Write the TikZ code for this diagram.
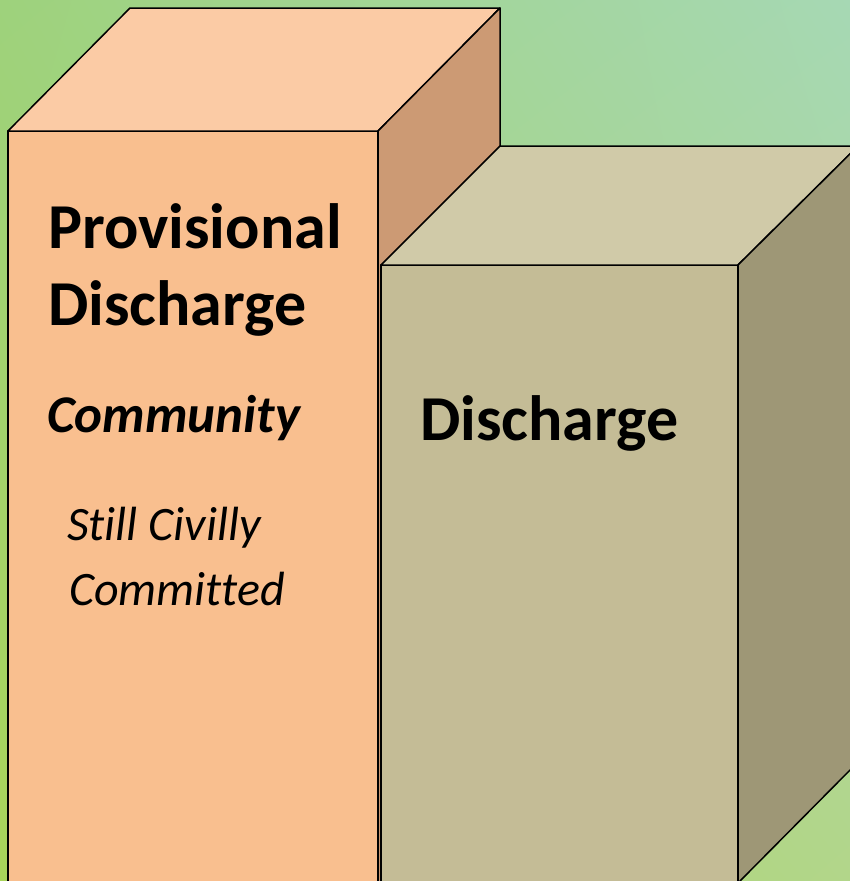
\documentclass[tikz,border=0pt]{standalone}
\usepackage{fontspec}
\setmainfont[Ligatures={NoCommon}]{Carlito}
\usepackage{xcolor}
\usetikzlibrary{shadings}

\definecolor{bgul}{HTML}{9ED27C}
\definecolor{bgur}{HTML}{A6D8B4}
\definecolor{bgll}{HTML}{A8D45A}
\definecolor{bglr}{HTML}{B2D68A}
\definecolor{orfront}{HTML}{F9BF8F}
\definecolor{ortop}{HTML}{FBCBA5}
\definecolor{orside}{HTML}{CC9A74}
\definecolor{tnfront}{HTML}{C4BC96}
\definecolor{tntop}{HTML}{D0CAA8}
\definecolor{tnside}{HTML}{9E9776}

\tikzset{
  face/.style={draw=black, line width=1.5pt, line join=round},
  bigtext/.style={anchor=base west, inner sep=0pt, font=\fontsize{64}{77}\selectfont\bfseries},
  subtext/.style={anchor=base west, inner sep=0pt, font=\fontsize{53}{60}\selectfont\bfseries\itshape},
  smalltext/.style={anchor=base west, inner sep=0pt, font=\fontsize{48}{60}\selectfont\itshape}
}

\begin{document}
\begin{tikzpicture}[x=1pt,y=-1pt]
      \useasboundingbox (0,0) rectangle (850,881);
      \clip (0,0) rectangle (850,881);

      % 背景
      \shade[upper left=bgul, upper right=bgur, lower left=bgll, lower right=bglr] (0,0) rectangle (850,881);

      % 左の箱の頂点
      \coordinate (A) at (8,131);
      \coordinate (B) at (378,131);
      \coordinate (C) at (378,895);
      \coordinate (D) at (8,895);
      \coordinate (E) at (130,8);
      \coordinate (F) at (500,8);
      \coordinate (G) at (500,770);

      % 右の箱の頂点
      \coordinate (P) at (381,265);
      \coordinate (Q) at (738,265);
      \coordinate (R) at (738,895);
      \coordinate (S) at (381,895);
      \coordinate (T) at (500,146);
      \coordinate (U) at (858,146);
      \coordinate (V) at (858,762);
      \coordinate (W) at (740,881);

      % 左の箱
      \draw[face, fill=orfront] (A) -- (B) -- (C) -- (D) -- cycle;
      \draw[face, fill=ortop] (A) -- (E) -- (F) -- (B) -- cycle;
      \draw[face, fill=orside] (B) -- (F) -- (G) -- (C) -- cycle;

      % 右の箱
      \draw[face, fill=tnfront] (P) -- (Q) -- (R) -- (S) -- cycle;
      \draw[face, fill=tntop] (P) -- (T) -- (U) -- (Q) -- cycle;
      \draw[face, fill=tnside] (Q) -- (U) -- (V) -- (W) -- (R) -- cycle;

      % 文字
      \node[bigtext] (prov) at (48,248) {Provisional};
      \node[bigtext] (provdis) at (48,325) {Discharge};
      \node[subtext] (comm) at (47,432) {Community};
      \node[smalltext] (still) at (67,540) {Still Civilly};
      \node[smalltext] (commit) at (69,605) {Committed};
      \node[bigtext] (dis) at (420,440) {Discharge};
\end{tikzpicture}
\end{document}
